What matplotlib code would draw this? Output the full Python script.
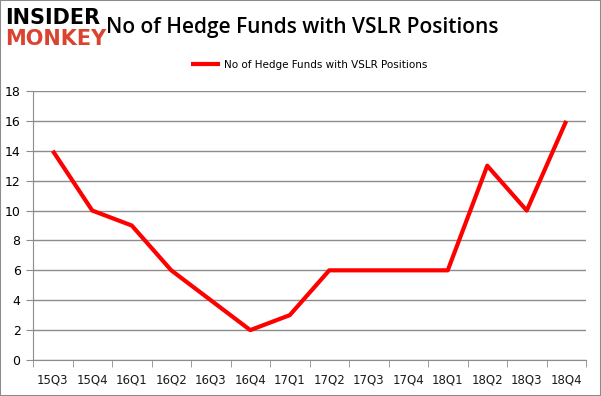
import matplotlib.pyplot as plt
from matplotlib.patches import Rectangle

quarters = ['15Q3', '15Q4', '16Q1', '16Q2', '16Q3', '16Q4', '17Q1',
            '17Q2', '17Q3', '17Q4', '18Q1', '18Q2', '18Q3', '18Q4']
funds = [14, 10, 9, 6, 4, 2, 3, 6, 6, 6, 6, 13, 10, 16]
yticks = [0, 2, 4, 6, 8, 10, 12, 14, 16, 18]

fig = plt.figure(figsize=(6.01, 3.96), dpi=100)
ax = fig.add_axes([33 / 601, 36 / 396, 553 / 601, 269 / 396])

x = list(range(len(quarters)))
ax.plot(x, funds, color='#ff0000', lw=3, solid_capstyle='butt',
        label='No of Hedge Funds with VSLR Positions', zorder=3)

ax.set_xlim(-0.5, len(quarters) - 0.5)
ax.set_ylim(0, 18)
ax.set_yticks(yticks)
ax.set_xticks(x)
ax.set_xticklabels(quarters)
ax.set_xticks([i - 0.5 for i in range(len(quarters) + 1)], minor=True)
ax.grid(axis='y', color='#8c8c8c', lw=1)
ax.set_axisbelow(True)

for s in ['top', 'right']:
    ax.spines[s].set_visible(False)
for s in ['left', 'bottom']:
    ax.spines[s].set_color('#8c8c8c')
ax.tick_params(axis='y', colors='#8c8c8c', length=5, labelcolor='black',
               labelsize=9, pad=4)
ax.tick_params(axis='x', which='major', length=0, labelsize=8.5,
               labelcolor='#1a1a1a', pad=10)
ax.tick_params(axis='x', which='minor', length=5, color='#8c8c8c')

leg = ax.legend(loc='lower center', bbox_to_anchor=(0.5, 1.045), frameon=False,
                fontsize=7.5, handlelength=2.8, handletextpad=0.4)

fig.text(302 / 601, 0.93, 'No of Hedge Funds with VSLR Positions',
         ha='center', va='center', fontsize=15, fontweight='semibold',
         family='Open Sans')
fig.text(5 / 601, 1 - 18 / 396, 'INSIDER', fontsize=15, fontweight='heavy',
         color='black', va='center', ha='left', family='DejaVu Sans')
fig.text(5 / 601, 1 - 39 / 396, 'MONKEY', fontsize=15, fontweight='heavy',
         color='#d9432f', va='center', ha='left', family='DejaVu Sans')

fig.patches.append(Rectangle((0, 0), 1, 1, transform=fig.transFigure,
                             fill=False, ec='#8c8c8c', lw=1.5))

fig.savefig('out.png', dpi=100)
